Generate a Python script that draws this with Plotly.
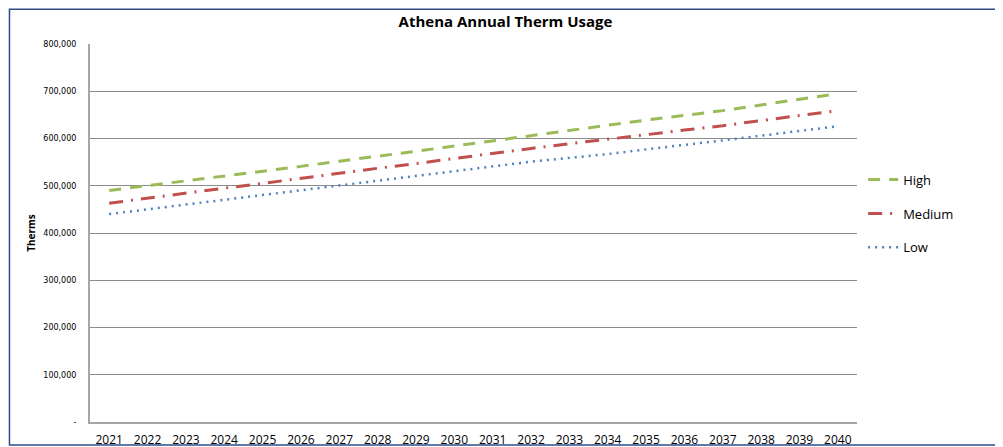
import plotly.graph_objects as go

# %% data
years = [str(y) for y in range(2021, 2041)]
high = [490000, 500000, 510000, 521000, 531000, 541000, 552000, 562000, 573000, 584000,
        595000, 607000, 618000, 629000, 639000, 649000, 659000, 671000, 683000, 695000]
medium = [463000, 474000, 484000, 495000, 505000, 516000, 526000, 537000, 547000, 558000,
          568000, 579000, 589000, 598000, 608000, 618000, 627000, 638000, 648000, 659000]
low = [440000, 450000, 460000, 470000, 480000, 490000, 500000, 510000, 520000, 530000,
       541000, 551000, 559000, 567000, 577000, 586000, 596000, 606000, 616000, 626000]
ytick_vals = [0, 100000, 200000, 300000, 400000, 500000, 600000, 700000, 800000]
ytick_text = ["-", "100,000", "200,000", "300,000", "400,000", "500,000",
              "600,000", "700,000", "800,000"]

# %% figure
fig = go.Figure()
fig.add_trace(go.Scatter(x=years, y=high, name="High", mode="lines", legendgroup="h",
                         line=dict(color="#9BBB59", width=3, dash="12px,9px")))
fig.add_trace(go.Scatter(x=years, y=medium, name="Medium", mode="lines", legendgroup="m",
                         line=dict(color="#C0504D", width=3, dash="14px,8px,2px,8px")))
fig.add_trace(go.Scatter(x=years, y=low, name="Low", mode="lines", legendgroup="l",
                         line=dict(color="#4F81BD", width=2.5, dash="2px,5px")))

# page body has an 8px margin, so the figure is 8px smaller and margins shifted
fig.update_layout(
    width=995, height=439,
    margin=dict(l=82, r=146, t=36, b=25),
    paper_bgcolor="white", plot_bgcolor="white",
    font=dict(family="Open Sans, Liberation Sans, sans-serif", color="black"),
    title=dict(text="<b>Athena Annual Therm Usage</b>", x=0.5, xanchor="center",
               y=0.968, yanchor="middle", font=dict(size=15)),
    showlegend=True,
    legend=dict(x=1.008, y=0.681, xanchor="left", yanchor="top",
                font=dict(size=13), tracegroupgap=14, itemwidth=30,
                bgcolor="rgba(0,0,0,0)"),
    shapes=[dict(type="rect", xref="paper", yref="paper",
                 x0=-0.105, x1=1.186, y0=-0.061, y1=1.092,
                 line=dict(color="#2F4C8A", width=1.5))],
)
fig.update_xaxes(type="category", showgrid=False, showline=True, linecolor="#A6A6A6",
                 linewidth=2, ticks="", tickfont=dict(size=12), range=[-0.5, 19.5],
                 ticklabelstandoff=6, automargin=False)
fig.update_yaxes(range=[0, 800000], tickvals=ytick_vals, ticktext=ytick_text,
                 showgrid=True, gridcolor="#8C8C8C", gridwidth=1,
                 showline=True, linecolor="#A6A6A6", linewidth=2, zeroline=False,
                 tickfont=dict(size=8, family="DejaVu Sans"), ticks="",
                 ticklabelstandoff=10, automargin=False,
                 title=dict(text="<b>Therms</b>", font=dict(size=10), standoff=6))

fig.write_html("out.html")
